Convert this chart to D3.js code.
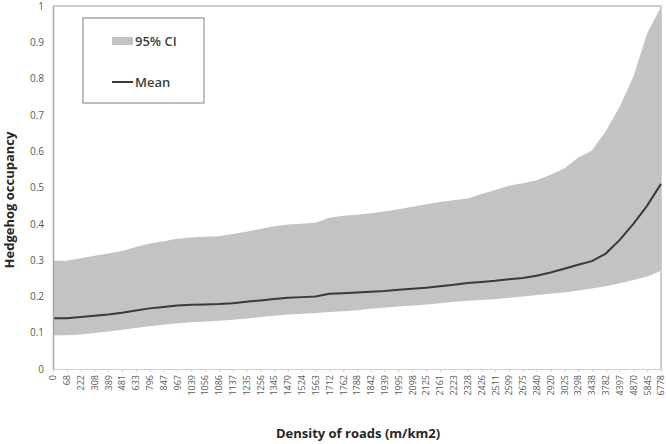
<!DOCTYPE html>
<html>
<head>
<meta charset="utf-8">
<script src="https://cdn.jsdelivr.net/npm/d3@7"></script>
<style>
body { margin: 0; background: #fff; }
text { font-family: "Open Sans", "Liberation Sans", sans-serif; }
</style>
</head>
<body>
<div id="chart"></div>
<script>
// road density categories (m/km2), one per labelled tick
var density = [0, 68, 222, 308, 389, 481, 633, 796, 847, 967, 1039, 1056, 1086, 1137, 1235, 1256,
  1345, 1479, 1524, 1563, 1712, 1762, 1788, 1842, 1939, 1995, 2098, 2125, 2161, 2223, 2328,
  2426, 2511, 2599, 2675, 2840, 2920, 3025, 3298, 3438, 3782, 4397, 4870, 5845, 6778]
var upper = [0.298, 0.298, 0.305, 0.312, 0.318, 0.325, 0.336, 0.346, 0.352, 0.359, 0.362, 0.364, 0.366, 0.372, 0.378, 0.386,
  0.393, 0.398, 0.400, 0.403, 0.417, 0.422, 0.425, 0.429, 0.434, 0.440, 0.447, 0.454, 0.460, 0.465, 0.470,
  0.482, 0.493, 0.505, 0.512, 0.520, 0.535, 0.552, 0.582, 0.602, 0.655, 0.722, 0.805, 0.925, 0.997]
var mean = [0.140, 0.140, 0.143, 0.147, 0.150, 0.155, 0.161, 0.167, 0.171, 0.175, 0.177, 0.178, 0.179, 0.181, 0.185, 0.189,
  0.193, 0.196, 0.198, 0.200, 0.207, 0.209, 0.211, 0.213, 0.215, 0.218, 0.221, 0.224, 0.228, 0.232, 0.237,
  0.240, 0.243, 0.247, 0.251, 0.257, 0.266, 0.276, 0.287, 0.297, 0.318, 0.355, 0.400, 0.450, 0.510]
var lower = [0.093, 0.093, 0.095, 0.099, 0.103, 0.108, 0.113, 0.118, 0.122, 0.126, 0.129, 0.131, 0.133, 0.136, 0.139, 0.143,
  0.147, 0.150, 0.152, 0.154, 0.157, 0.159, 0.162, 0.166, 0.169, 0.172, 0.175, 0.178, 0.181, 0.185, 0.188,
  0.190, 0.192, 0.196, 0.200, 0.204, 0.207, 0.211, 0.216, 0.222, 0.228, 0.236, 0.245, 0.255, 0.271]
var yTicks = [0, 0.1, 0.2, 0.3, 0.4, 0.5, 0.6, 0.7, 0.8, 0.9, 1]

var W = 666, H = 444
var margin = { top: 6, right: 5, bottom: 75, left: 53 }
var svg = d3.select("#chart").append("svg").attr("width", W).attr("height", H)

var x = d3.scalePoint().domain(density).range([margin.left, W - margin.right])
var y = d3.scaleLinear().domain([0, 1]).range([H - margin.bottom, margin.top])

var rows = density.map(function(d, i) {
  return { d: d, up: upper[i], m: mean[i], lo: lower[i] }
})

// plot frame (top and right)
svg.append("path")
  .attr("d", "M" + margin.left + "," + y(1) + "H" + (W - margin.right) + "V" + y(0))
  .attr("fill", "none").attr("stroke", "#bfbfbf").attr("stroke-width", 1.5)

var area = d3.area()
  .x(function(r) { return x(r.d) })
  .y0(function(r) { return y(r.lo) })
  .y1(function(r) { return y(r.up) })
svg.append("path").datum(rows).attr("d", area).attr("fill", "#c3c3c3")

var line = d3.line()
  .x(function(r) { return x(r.d) })
  .y(function(r) { return y(r.m) })
svg.append("path").datum(rows).attr("d", line)
  .attr("fill", "none").attr("stroke", "#3a3a3a").attr("stroke-width", 2)

// y axis
var ya = svg.append("g").attr("transform", "translate(" + margin.left + ",0)")
  .call(d3.axisLeft(y).tickValues(yTicks).tickSize(0).tickPadding(9).tickFormat(d3.format("~g")))
ya.select(".domain").attr("stroke", "#a6a6a6").attr("stroke-width", 1.5)
ya.selectAll("text").attr("fill", "#595959").style("font-size", "10px")

// x axis
var xa = svg.append("g").attr("transform", "translate(0," + y(0) + ")")
  .call(d3.axisBottom(x).tickSize(3).tickSizeOuter(0))
xa.select(".domain").attr("stroke", "#d0d0d0")
xa.selectAll(".tick line").attr("stroke", "#d0d0d0")
xa.selectAll("text")
  .attr("fill", "#595959").style("font-size", "9px")
  .attr("transform", "rotate(-90)")
  .attr("text-anchor", "end")
  .attr("x", -6).attr("y", 0).attr("dy", "0.32em")

// axis titles
svg.append("text")
  .attr("transform", "translate(14,200) rotate(-90)")
  .attr("text-anchor", "middle")
  .style("font-size", "13px").style("font-weight", "bold").attr("fill", "#262626")
  .text("Hedgehog occupancy")
svg.append("text")
  .attr("x", 358).attr("y", 438)
  .attr("text-anchor", "middle")
  .style("font-size", "13px").style("font-weight", "bold").attr("fill", "#262626")
  .text("Density of roads (m/km2)")

// legend
var lg = svg.append("g").attr("transform", "translate(83,18)")
lg.append("rect").attr("width", 121).attr("height", 85)
  .attr("fill", "#fff").attr("stroke", "#7f7f7f").attr("stroke-width", 1)
lg.append("rect").attr("x", 29).attr("y", 19).attr("width", 21).attr("height", 8).attr("fill", "#c3c3c3")
lg.append("text").attr("x", 52).attr("y", 28)
  .style("font-size", "13px").style("font-weight", "600").attr("fill", "#404040").text("95% CI")
lg.append("line").attr("x1", 29).attr("x2", 50).attr("y1", 64).attr("y2", 64)
  .attr("stroke", "#3a3a3a").attr("stroke-width", 2)
lg.append("text").attr("x", 52).attr("y", 69)
  .style("font-size", "13px").style("font-weight", "600").attr("fill", "#404040").text("Mean")
</script>
</body>
</html>
